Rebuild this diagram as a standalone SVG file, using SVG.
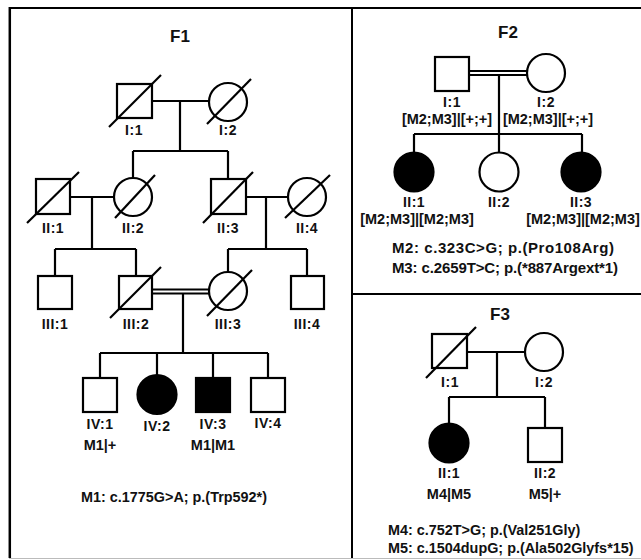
<svg xmlns="http://www.w3.org/2000/svg" width="641" height="560" viewBox="0 0 641 560">
<style>
.s{fill:#fff;stroke:#000;stroke-width:2.2}
.a{fill:#000;stroke:#000;stroke-width:2.2}
.l{stroke:#000;stroke-width:2.2;fill:none}
.t{font-family:"Liberation Sans",Arial,sans-serif;font-weight:bold;fill:#111;text-anchor:middle}
.lb{font-size:14px;letter-spacing:0.5px}
.gt{font-size:14.5px}
.ti{font-size:17px}
.m{font-family:"Liberation Sans",Arial,sans-serif;font-weight:bold;fill:#111;font-size:14.4px}
</style>
<rect width="641" height="560" fill="#fff"/>
<g id="frame">
<line x1="9" y1="8" x2="641" y2="8" stroke="#000" stroke-width="2"/>
<line x1="9.8" y1="7" x2="9.8" y2="558" stroke="#000" stroke-width="2.5"/>
<line x1="352" y1="7" x2="352" y2="558" stroke="#000" stroke-width="2"/>
<line x1="352" y1="294" x2="641" y2="294" stroke="#000" stroke-width="2"/>
<line x1="9" y1="558.5" x2="641" y2="558.5" stroke="#bbb" stroke-width="1"/>
</g>
<g id="connectors">
<path class="l" d="M152,101H209M180,101V151M133,151H228M133,151V178M228,151V179"/>
<path class="l" d="M70,197H114M92,197V249M55,249H136M55,249V276M136,249V276"/>
<path class="l" d="M246,197H288M266,197V249M228,249H307M228,249V272M307,249V276"/>
<path class="l" d="M152,289.5H209M152,293.5H209M183,293.5V353M100,353H268M100,353V378M157,353V375M213,353V378M268,353V378"/>
<path class="l" d="M469,71H527M469,75H527M499,75V134M414,134H582M414,134V153M499,134V153M582,134V153"/>
<path class="l" d="M467,352H525M497,352V397M449,397H545M449,397V424M545,397V428"/>
</g>
<g id="F1">
<text class="t ti" x="180" y="42">F1</text>
<g id="F1-I1"><rect class="s" x="117" y="84" width="35" height="34"/><line class="l" x1="109" y1="127" x2="161" y2="75"/><text class="t lb" x="134" y="135">I:1</text></g>
<g id="F1-I2"><circle class="s" cx="228" cy="102" r="19"/><line class="l" x1="207" y1="124" x2="251" y2="79"/><text class="t lb" x="228" y="135">I:2</text></g>
<g id="F1-II1"><rect class="s" x="36" y="179" width="34" height="35"/><line class="l" x1="27" y1="223" x2="79" y2="172"/><text class="t lb" x="53" y="233">II:1</text></g>
<g id="F1-II2"><circle class="s" cx="133" cy="197" r="19"/><line class="l" x1="115" y1="218" x2="155" y2="175"/><text class="t lb" x="133" y="233">II:2</text></g>
<g id="F1-II3"><rect class="s" x="211" y="179" width="35" height="35"/><line class="l" x1="203" y1="223" x2="253" y2="172"/><text class="t lb" x="228" y="233">II:3</text></g>
<g id="F1-II4"><circle class="s" cx="307" cy="197" r="19"/><line class="l" x1="285" y1="218" x2="330" y2="175"/><text class="t lb" x="307" y="233">II:4</text></g>
<g id="F1-III1"><rect class="s" x="38" y="276" width="34" height="33"/><text class="t lb" x="55" y="329">III:1</text></g>
<g id="F1-III2"><rect class="s" x="119" y="276" width="33" height="33"/><line class="l" x1="110" y1="318" x2="161" y2="267"/><text class="t lb" x="136" y="329">III:2</text></g>
<g id="F1-III3"><circle class="s" cx="228" cy="291" r="19"/><line class="l" x1="207" y1="316" x2="252" y2="270"/><text class="t lb" x="228" y="329">III:3</text></g>
<g id="F1-III4"><rect class="s" x="291" y="276" width="33" height="33"/><text class="t lb" x="307" y="329">III:4</text></g>
<g id="F1-IV1"><rect class="s" x="83" y="378" width="34" height="34"/><text class="t lb" x="100" y="429">IV:1</text><text class="t gt" x="100" y="450">M1|+</text></g>
<g id="F1-IV2"><circle class="a" cx="157" cy="394.5" r="19.5"/><text class="t lb" x="157" y="431">IV:2</text></g>
<g id="F1-IV3"><rect class="a" x="196" y="378" width="34" height="34"/><text class="t lb" x="213" y="429">IV:3</text><text class="t gt" x="213" y="450">M1|M1</text></g>
<g id="F1-IV4"><rect class="s" x="251" y="378" width="34" height="34"/><text class="t lb" x="268" y="428">IV:4</text></g>
<text class="m" x="81" y="502">M1: c.1775G&gt;A; p.(Trp592*)</text>
</g>
<g id="F2">
<text class="t ti" x="508" y="38">F2</text>
<g id="F2-I1"><rect class="s" x="435" y="57" width="34" height="34"/><text class="t lb" x="452" y="107">I:1</text><text class="t gt" x="447" y="124">[M2;M3]|[+;+]</text></g>
<g id="F2-I2"><circle class="s" cx="546" cy="73" r="19"/><text class="t lb" x="546" y="107">I:2</text><text class="t gt" x="548" y="124">[M2;M3]|[+;+]</text></g>
<g id="F2-II1"><circle class="a" cx="414" cy="172" r="19.5"/><text class="t lb" x="414" y="207">II:1</text><text class="t gt" x="417" y="224">[M2;M3]|[M2;M3]</text></g>
<g id="F2-II2"><circle class="s" cx="499" cy="172" r="19.5"/><text class="t lb" x="499" y="207">II:2</text></g>
<g id="F2-II3"><circle class="a" cx="581" cy="172" r="19.5"/><text class="t lb" x="581" y="207">II:3</text><text class="t gt" x="583" y="224">[M2;M3]|[M2;M3]</text></g>
<text class="m" x="392" y="253" style="font-size:15px" textLength="222" lengthAdjust="spacing">M2: c.323C&gt;G; p.(Pro108Arg)</text>
<text class="m" x="392" y="273" style="font-size:15px" textLength="226" lengthAdjust="spacing">M3: c.2659T&gt;C; p.(*887Argext*1)</text>
</g>
<g id="F3">
<text class="t ti" x="500" y="320">F3</text>
<g id="F3-I1"><rect class="s" x="432" y="334" width="35" height="34"/><line class="l" x1="426" y1="378" x2="476" y2="327"/><text class="t lb" x="450" y="387">I:1</text></g>
<g id="F3-I2"><circle class="s" cx="544" cy="352" r="19"/><text class="t lb" x="544" y="387">I:2</text></g>
<g id="F3-II1"><circle class="a" cx="449" cy="443" r="19.5"/><text class="t lb" x="449" y="478">II:1</text><text class="t gt" x="449" y="499">M4|M5</text></g>
<g id="F3-II2"><rect class="s" x="528" y="428" width="34" height="34"/><text class="t lb" x="545" y="478">II:2</text><text class="t gt" x="545" y="499">M5|+</text></g>
<text class="m" x="388" y="535">M4: c.752T&gt;G; p.(Val251Gly)</text>
<text class="m" x="388" y="553">M5: c.1504dupG; p.(Ala502Glyfs*15)</text>
</g>
</svg>
